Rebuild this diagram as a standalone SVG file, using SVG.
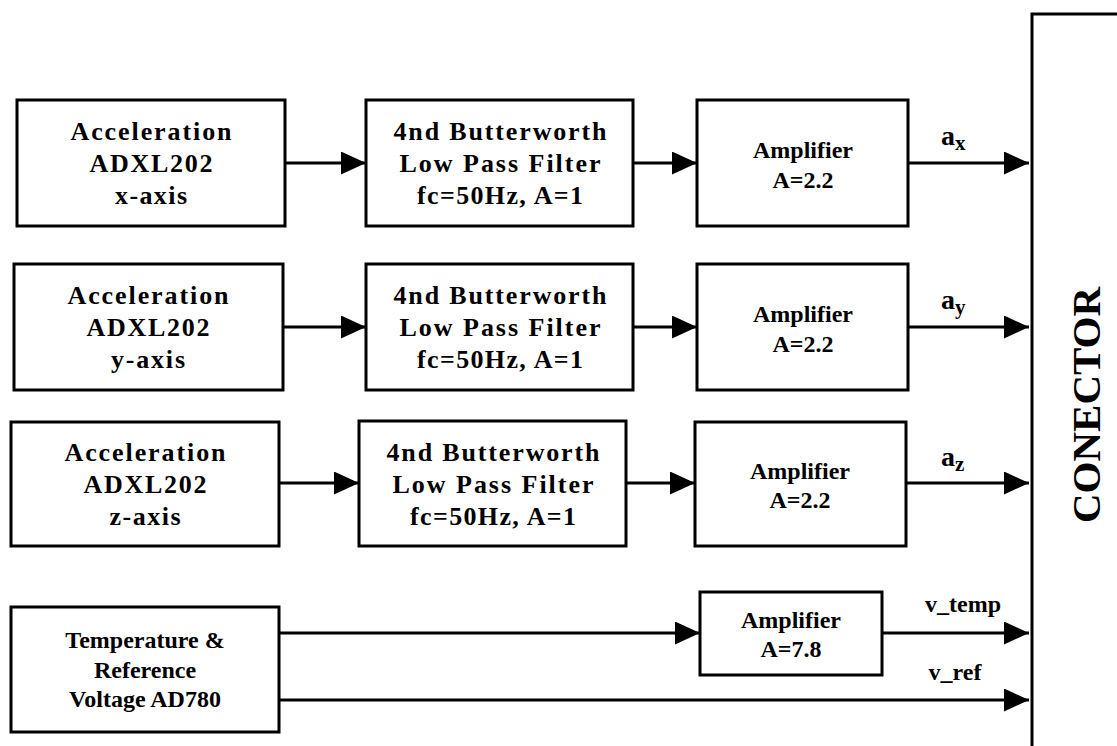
<svg xmlns="http://www.w3.org/2000/svg" width="1117" height="746" viewBox="0 0 1117 746">
<style>
.box{fill:#fff;stroke:#000;stroke-width:3}
.ln{fill:none;stroke:#000;stroke-width:3}
.t{font-family:"Liberation Serif","Times New Roman",serif;font-size:26px;font-weight:bold;text-anchor:middle;fill:#000}
.s{font-family:"Liberation Serif","Times New Roman",serif;font-size:24px;font-weight:bold;text-anchor:middle;fill:#000}
.lb{font-family:"Liberation Serif","Times New Roman",serif;font-size:28px;font-weight:bold;fill:#000}
.sub{font-size:21px}
.big{font-family:"Liberation Serif","Times New Roman",serif;font-size:41px;font-weight:bold;text-anchor:middle;fill:#000}
</style>
<defs>
<marker id="ah" markerUnits="userSpaceOnUse" markerWidth="26" markerHeight="24" refX="25" refY="11.5" orient="auto">
<path d="M0,0 L25,11.5 L0,23 z" fill="#000"/>
</marker>
</defs>
<rect width="1117" height="746" fill="#fff"/>

<g id="connectors">
<line class="ln" x1="285" y1="163" x2="366" y2="163" marker-end="url(#ah)"/>
<line class="ln" x1="633" y1="163" x2="697" y2="163" marker-end="url(#ah)"/>
<line class="ln" x1="908" y1="163" x2="1029" y2="163" marker-end="url(#ah)"/>
<line class="ln" x1="283" y1="327" x2="366" y2="327" marker-end="url(#ah)"/>
<line class="ln" x1="633" y1="327" x2="697" y2="327" marker-end="url(#ah)"/>
<line class="ln" x1="908" y1="327" x2="1029" y2="327" marker-end="url(#ah)"/>
<line class="ln" x1="279" y1="483" x2="359" y2="483" marker-end="url(#ah)"/>
<line class="ln" x1="626" y1="483" x2="695" y2="483" marker-end="url(#ah)"/>
<line class="ln" x1="906" y1="483" x2="1029" y2="483" marker-end="url(#ah)"/>
<line class="ln" x1="279" y1="633" x2="700" y2="633" marker-end="url(#ah)"/>
<line class="ln" x1="882" y1="633" x2="1029" y2="633" marker-end="url(#ah)"/>
<line class="ln" x1="279" y1="700" x2="1029" y2="700" marker-end="url(#ah)"/>
<text class="lb" x="941" y="145">a<tspan class="sub" dy="5">x</tspan></text>
<text class="lb" x="941" y="309">a<tspan class="sub" dy="5">y</tspan></text>
<text class="lb" x="941" y="466">a<tspan class="sub" dy="5">z</tspan></text>
<text class="s" x="963" y="612">v_temp</text>
<text class="s" x="955" y="680">v_ref</text>
</g>

<g id="accel-x">
<rect class="box" x="17" y="100" width="268" height="126"/>
<text class="t" x="151" y="140" textLength="161">Acceleration</text>
<text class="t" x="151" y="172" textLength="123">ADXL202</text>
<text class="t" x="151" y="204" textLength="72">x-axis</text>
</g>
<g id="filter-x">
<rect class="box" x="366" y="100" width="267" height="126"/>
<text class="t" x="500" y="140" textLength="213">4nd Butterworth</text>
<text class="t" x="500" y="172" textLength="201">Low Pass Filter</text>
<text class="t" x="500" y="204" textLength="166">fc=50Hz, A=1</text>
</g>
<g id="amp-x">
<rect class="box" x="697" y="100" width="211" height="126"/>
<text class="s" x="803" y="158">Amplifier</text>
<text class="s" x="803" y="188">A=2.2</text>
</g>

<g id="accel-y">
<rect class="box" x="14" y="264" width="269" height="126"/>
<text class="t" x="148" y="304" textLength="161">Acceleration</text>
<text class="t" x="148" y="336" textLength="123">ADXL202</text>
<text class="t" x="148" y="368" textLength="74">y-axis</text>
</g>
<g id="filter-y">
<rect class="box" x="366" y="264" width="267" height="126"/>
<text class="t" x="500" y="304" textLength="213">4nd Butterworth</text>
<text class="t" x="500" y="336" textLength="201">Low Pass Filter</text>
<text class="t" x="500" y="368" textLength="166">fc=50Hz, A=1</text>
</g>
<g id="amp-y">
<rect class="box" x="697" y="264" width="211" height="126"/>
<text class="s" x="803" y="322">Amplifier</text>
<text class="s" x="803" y="352">A=2.2</text>
</g>

<g id="accel-z">
<rect class="box" x="11" y="422" width="268" height="124"/>
<text class="t" x="145" y="461" textLength="161">Acceleration</text>
<text class="t" x="145" y="493" textLength="123">ADXL202</text>
<text class="t" x="145" y="525" textLength="71">z-axis</text>
</g>
<g id="filter-z">
<rect class="box" x="359" y="421" width="267" height="125"/>
<text class="t" x="493" y="461" textLength="213">4nd Butterworth</text>
<text class="t" x="493" y="493" textLength="201">Low Pass Filter</text>
<text class="t" x="493" y="525" textLength="166">fc=50Hz, A=1</text>
</g>
<g id="amp-z">
<rect class="box" x="695" y="422" width="211" height="124"/>
<text class="s" x="800" y="479">Amplifier</text>
<text class="s" x="800" y="508">A=2.2</text>
</g>

<g id="temp-ref">
<rect class="box" x="11" y="607" width="268" height="125"/>
<text class="s" x="145" y="648">Temperature &amp;</text>
<text class="s" x="145" y="678">Reference</text>
<text class="s" x="145" y="707">Voltage AD780</text>
</g>
<g id="amp-temp">
<rect class="box" x="700" y="592" width="182" height="83"/>
<text class="s" x="791" y="628">Amplifier</text>
<text class="s" x="791" y="657">A=7.8</text>
</g>

<g id="conector">
<rect class="box" x="1032" y="14" width="110" height="760"/>
<text class="big" transform="translate(1100,405) rotate(-90)">CONECTOR</text>
</g>
</svg>
